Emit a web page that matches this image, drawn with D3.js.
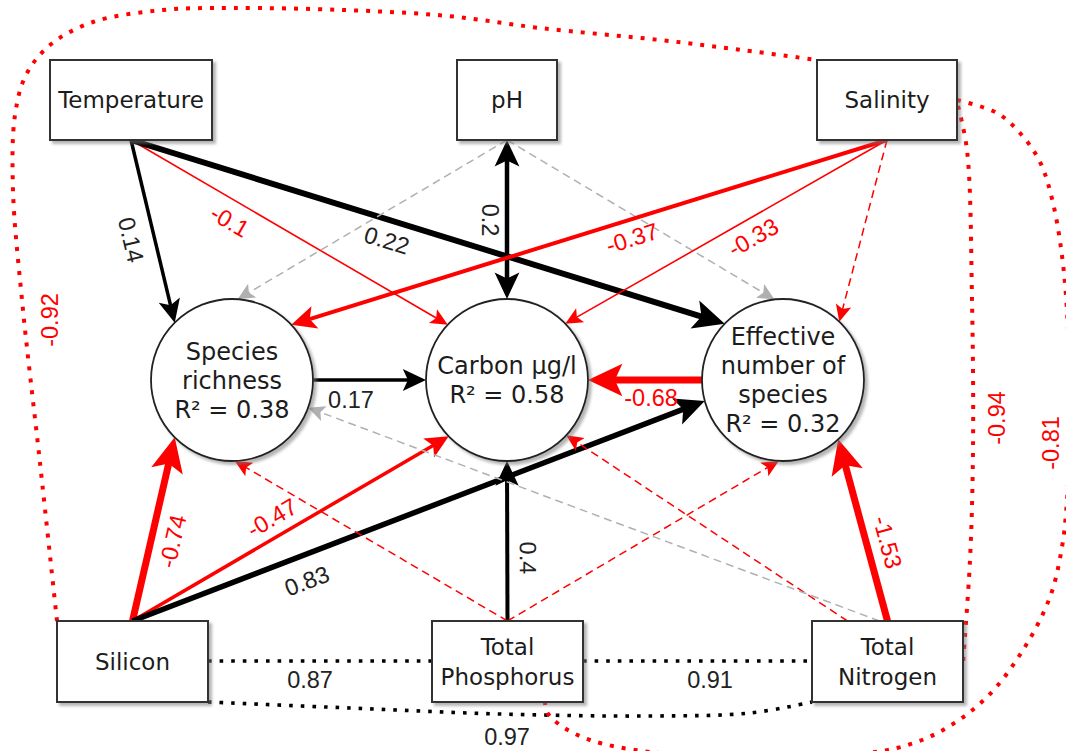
<!DOCTYPE html>
<html><head><meta charset="utf-8">
<script src="https://cdn.jsdelivr.net/npm/d3@7"></script>
<style>html,body{margin:0;padding:0;background:#fff;} svg{display:block;}</style>
</head><body><div id="chart"></div>
<script>
// ---------------- DATA ----------------
const nodeIds    = ["temp","ph","sal","rich","carbon","eff","si","tp","tn"];
const nodeLabels = [["Temperature"],["pH"],["Salinity"],["Species","richness"],["Carbon μg/l"],
                    ["Effective","number of","species"],["Silicon"],["Total","Phosphorus"],["Total","Nitrogen"]];
const responseIds = ["rich","carbon","eff"];
const rSquared    = [0.38, 0.58, 0.32];

// structural paths (regressions)
const pathFrom = ["temp","temp","temp","ph","ph","ph","sal","sal","sal","rich","eff","si","si","si","tp","tp","tp","tn","tn","tn"];
const pathTo   = ["rich","carbon","eff","carbon","rich","eff","rich","carbon","eff","carbon","carbon","rich","carbon","eff","carbon","rich","eff","eff","carbon","rich"];
const pathCoef = [0.14,-0.1,0.22,0.2,null,null,-0.37,-0.33,null,0.17,-0.68,-0.74,-0.47,0.83,0.4,null,null,-1.53,null,null];
const pathSign = [1,-1,1,1,1,1,-1,-1,-1,1,-1,-1,-1,1,1,-1,-1,-1,-1,1];
const pathTwoWay = [false,false,false,true,false,false,false,false,false,false,false,false,false,false,false,false,false,false,false,false];

// correlations between exogenous variables
const corrA    = ["si","tp","si","si","sal","sal"];
const corrB    = ["tp","tn","tn","sal","tn","tp"];
const corrCoef = [0.87,0.91,0.97,-0.92,-0.94,-0.81];

// ---------------- LAYOUT / STYLE ----------------
const W = 1066, H = 751;
const nodeLayout = {
  temp:  {shape:"rect", x:50,  y:60,  w:162, h:80},
  ph:    {shape:"rect", x:457, y:60,  w:100, h:80},
  sal:   {shape:"rect", x:817, y:60,  w:140, h:80},
  rich:  {shape:"circle", cx:232, cy:380, r:81},
  carbon:{shape:"circle", cx:507, cy:380, r:81},
  eff:   {shape:"circle", cx:783, cy:380, r:81},
  si:    {shape:"rect", x:57,  y:621, w:151, h:81},
  tp:    {shape:"rect", x:432, y:621, w:151, h:81},
  tn:    {shape:"rect", x:812, y:621, w:151, h:81}
};
const pathSrcAnchor = [
  {side:"bottom"},{side:"bottom"},{side:"bottom"},
  {side:"bottom"},{side:"bottom"},{side:"bottom"},
  {side:"bottom"},{side:"bottom"},{side:"bottom"},
  {angle:0},{angle:180},
  {side:"top"},{side:"top"},{side:"top"},
  {side:"top"},{side:"top"},{side:"top"},
  {side:"top"},{side:"top",dx:-40},{side:"top",dx:-8}
];
const pathTgtAngle = [225,223,224,270,274,264,317,316,314,180,0,135,136,165,90,88,93,47,43,20];
const pathWidth    = [3.5,1.6,6,4.5,1.5,1.5,4,1.6,1.5,3.5,7,7,3.5,5.5,4,1.5,1.5,7,1.5,1.5];
const pathLabelT   = [0.517,0.344,0.441,0.503,0,0,0.437,0.444,0,0.336,0.447,0.46,0.471,0.289,0.394,0,0,0.404,0,0];
const pathLabelD   = [23,20,20,17,0,0,-18,-18,0,20,-18,21,-19,25,21,0,0,21,0,0];

const corrRoute = [
  [[208,661],[432,661]],
  [[583,661],[812,661]],
  [[208,702],[350,708],[500,714],[650,716],[750,713],[812,702]],
  [[57,621],[40,463],[22,300],[13,190],[15,115],[26,75],[50,45],[93,22],[163,10],[233,8],[344,10],[448,16],[540,28],[660,40],[742,50],[817,60]],
  [[958,106],[967,150],[972,300],[973,450],[970,560],[963,662]],
  [[957,100],[997,113],[1020,133],[1040,162],[1053,203],[1063,264],[1068,330],[1070,420],[1067,500],[1062,547],[1050,597],[1023,650],[987,697],[943,730],[897,748],[830,756],[740,757],[650,752],[590,740],[560,725],[547,712],[545,702]]
];
const corrLabelPos = [[310,680,0],[710,680,0],[507,737,0],[50,320,-90],[997,418,-90],[1051,443,-90]];

const RED = "#ff0000", BLACK = "#000000", GRAY = "#b0b0b0", TEXT = "#1c1c1c";
const nodeFont = "'DejaVu Sans', Verdana, sans-serif";
const numFont  = "'Liberation Sans', Arial, sans-serif";
const numSize  = 23.5;

// ---------------- DRAW ----------------
const svg = d3.select("#chart").append("svg").attr("width", W).attr("height", H);
svg.append("rect").attr("width", W).attr("height", H).attr("fill", "#fff");
const defs = svg.append("defs");
const flt = defs.append("filter").attr("id","shadow").attr("x","-20%").attr("y","-20%").attr("width","150%").attr("height","150%");
flt.append("feDropShadow").attr("dx",3).attr("dy",3).attr("stdDeviation",1.4)
   .attr("flood-color","#777").attr("flood-opacity",0.55);

function anchor(id, spec) {
  const n = nodeLayout[id];
  if (n.shape === "circle") {
    const a = spec.angle * Math.PI / 180;
    return [n.cx + n.r * Math.cos(a), n.cy + n.r * Math.sin(a)];
  }
  const dx = spec.dx || 0;
  if (spec.side === "bottom") return [n.x + n.w/2 + dx, n.y + n.h];
  if (spec.side === "top") return [n.x + n.w/2 + dx, n.y];
  return [n.x + n.w/2, n.y + n.h/2];
}

const gCorr = svg.append("g");
const gPaths = svg.append("g");
const gNodes = svg.append("g");
const gLabels = svg.append("g");

// correlation curves
const curveLine = d3.line().curve(d3.curveCatmullRom.alpha(0.5));
corrCoef.forEach((v, i) => {
  const col = v < 0 ? RED : BLACK;
  gCorr.append("path")
    .attr("d", curveLine(corrRoute[i]))
    .attr("fill","none").attr("stroke", col)
    .attr("stroke-width", v < 0 ? 4 : 3.6)
    .attr("stroke-dasharray", v < 0 ? "4 8" : "3.6 8");
  const [lx, ly, rot] = corrLabelPos[i];
  gLabels.append("text")
    .attr("transform", `translate(${lx},${ly}) rotate(${rot})`)
    .attr("y", 0.36 * numSize)
    .attr("text-anchor","middle")
    .attr("font-family", numFont).attr("font-size", numSize)
    .attr("fill", v < 0 ? RED : "#222")
    .text(String(v));
});

// arrowhead polygon
function headPath(tip, u, w) {
  const L = 12 + 3.2 * w, Hh = 0.47 * L, N = 0.78 * L;
  const n = [-u[1], u[0]];
  const b = [tip[0] - L*u[0], tip[1] - L*u[1]];
  const p1 = [b[0] + Hh*n[0], b[1] + Hh*n[1]];
  const p2 = [b[0] - Hh*n[0], b[1] - Hh*n[1]];
  const nb = [tip[0] - N*u[0], tip[1] - N*u[1]];
  const p = d3.path();
  p.moveTo(tip[0], tip[1]); p.lineTo(p1[0], p1[1]); p.lineTo(nb[0], nb[1]); p.lineTo(p2[0], p2[1]); p.closePath();
  return {d: p.toString(), back: [tip[0] - (N-1)*u[0], tip[1] - (N-1)*u[1]]};
}

pathFrom.forEach((src, i) => {
  const s = anchor(src, pathSrcAnchor[i]);
  const t = anchor(pathTo[i], {angle: pathTgtAngle[i]});
  const len = Math.hypot(t[0]-s[0], t[1]-s[1]);
  const u = [(t[0]-s[0])/len, (t[1]-s[1])/len];
  const sig = pathCoef[i] !== null;
  const sign = sig ? Math.sign(pathCoef[i]) : pathSign[i];
  const col = sig ? (sign < 0 ? RED : BLACK) : (sign < 0 ? RED : GRAY);
  const w = pathWidth[i];
  const hEnd = headPath(t, u, w);
  let start = s;
  const g = gPaths.append("g");
  if (pathTwoWay[i]) {
    const hStart = headPath(s, [-u[0], -u[1]], w);
    start = hStart.back;
    g.append("path").attr("d", hStart.d).attr("fill", col);
  }
  g.append("line")
    .attr("x1", start[0]).attr("y1", start[1]).attr("x2", hEnd.back[0]).attr("y2", hEnd.back[1])
    .attr("stroke", col).attr("stroke-width", w)
    .attr("stroke-dasharray", sig ? null : "8 5");
  g.append("path").attr("d", hEnd.d).attr("fill", col);

  if (sig) {
    const tt = pathLabelT[i], dd = pathLabelD[i];
    const n = [-u[1], u[0]];
    const lx = s[0] + tt*len*u[0] + dd*n[0];
    const ly = s[1] + tt*len*u[1] + dd*n[1];
    let a = Math.atan2(u[1], u[0]) * 180 / Math.PI;
    if (a > 90) a -= 180;
    if (a <= -90) a += 180;
    gLabels.append("text")
      .attr("transform", `translate(${lx},${ly}) rotate(${a})`)
      .attr("y", 0.36 * numSize)
      .attr("text-anchor","middle")
      .attr("font-family", numFont).attr("font-size", numSize)
      .attr("fill", sign < 0 ? RED : "#222")
      .text(String(pathCoef[i]));
  }
});

// nodes
nodeIds.forEach((id, i) => {
  const n = nodeLayout[id];
  let lines = nodeLabels[i].slice();
  let cx, cy, fs, lh;
  if (n.shape === "circle") {
    const k = responseIds.indexOf(id);
    lines.push("R² = " + d3.format(".2f")(rSquared[k]));
    gNodes.append("circle").attr("cx", n.cx).attr("cy", n.cy).attr("r", n.r)
      .attr("fill","#fff").attr("stroke","#222").attr("stroke-width",1.8).attr("filter","url(#shadow)");
    cx = n.cx; cy = n.cy; fs = 24; lh = 29;
  } else {
    gNodes.append("rect").attr("x", n.x).attr("y", n.y).attr("width", n.w).attr("height", n.h)
      .attr("fill","#fff").attr("stroke","#333").attr("stroke-width",2).attr("filter","url(#shadow)");
    cx = n.x + n.w/2; cy = n.y + n.h/2; fs = 23; lh = 30;
  }
  const t = gNodes.append("text").attr("text-anchor","middle")
    .attr("font-family", nodeFont).attr("font-size", fs).attr("fill", TEXT);
  lines.forEach((ln, j) => {
    t.append("tspan").attr("x", cx)
      .attr("y", cy + (j - (lines.length-1)/2) * lh + 0.36*fs)
      .text(ln);
  });
});
</script>
</body></html>
